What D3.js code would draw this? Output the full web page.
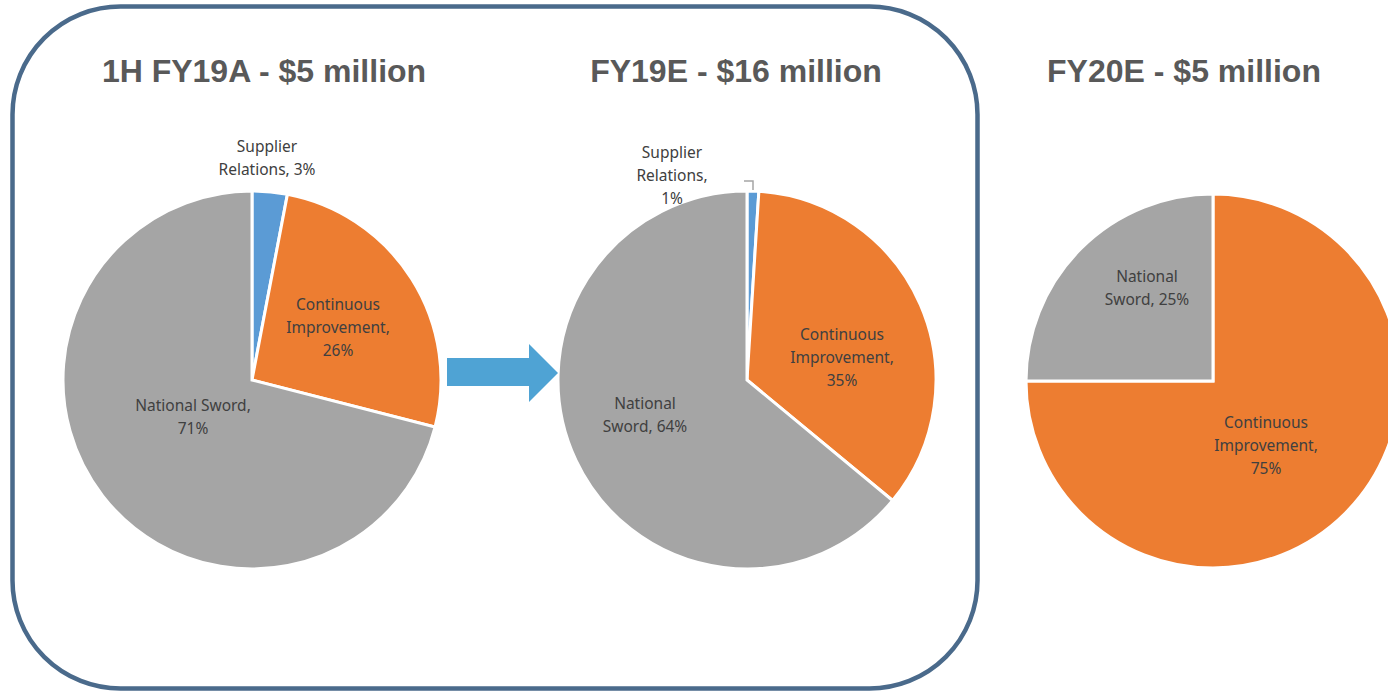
<!DOCTYPE html>
<html lang="en">
<head>
<meta charset="utf-8">
<style>
  body { margin: 0; background: white; }
  svg { display: block; }
  .title { font-family: 'Liberation Sans', Arial, sans-serif; font-weight: bold; font-size: 32px; fill: #595959; }
  .lbl { font-family: 'Noto Sans', 'Open Sans', sans-serif; font-size: 15.5px; fill: #404040; }
</style>
</head>
<body>
<svg width="1388" height="692"></svg>
<script src="https://cdn.jsdelivr.net/npm/d3@7"></script>
<script>
// slice order: Supplier Relations, Continuous Improvement, National Sword
var categories = ["Supplier Relations", "Continuous Improvement", "National Sword"];
var colors = ["#5b9bd5", "#ed7d31", "#a5a5a5"];
var titles = ["1H FY19A - $5 million", "FY19E - $16 million", "FY20E - $5 million"];
var fy19aValues = [3, 26, 71];
var fy19eValues = [1, 35, 64];
var fy20eValues = [0, 75, 25];

// label text lines per pie / slice (as shown on the chart)
var fy19aLabels = [["Supplier", "Relations, 3%"], ["Continuous", "Improvement,", "26%"], ["National Sword,", "71%"]];
var fy19eLabels = [["Supplier", "Relations,", "1%"], ["Continuous", "Improvement,", "35%"], ["National", "Sword, 64%"]];
var fy20eLabels = [[], ["Continuous", "Improvement,", "75%"], ["National", "Sword, 25%"]];

var svg = d3.select("svg");

// rounded frame around the first two pies
svg.append("rect")
    .attr("x", 12.5).attr("y", 6.5)
    .attr("width", 965).attr("height", 682)
    .attr("rx", 108).attr("ry", 108)
    .attr("fill", "none")
    .attr("stroke", "#4a6a8b")
    .attr("stroke-width", 4.5);

var pies = [
  { cx: 252, cy: 380, r: 189, title: titles[0], tx: 264, values: fy19aValues, labels: fy19aLabels,
    lpos: [[267, 147], [338, 305], [193, 406]] },
  { cx: 747, cy: 380, r: 189, title: titles[1], tx: 736, values: fy19eValues, labels: fy19eLabels,
    lpos: [[672, 153], [842, 335], [645, 404]] },
  { cx: 1213, cy: 381, r: 187, title: titles[2], tx: 1184, values: fy20eValues, labels: fy20eLabels,
    lpos: [[0, 0], [1266, 423], [1147, 277]] }
];

var pie = d3.pie().sort(null).value(d => d);

pies.forEach(function(p) {
  var arc = d3.arc().innerRadius(0).outerRadius(p.r);
  svg.append("text")
      .attr("class", "title")
      .attr("x", p.tx).attr("y", 82)
      .attr("text-anchor", "middle")
      .text(p.title);

  var g = svg.append("g").attr("transform", "translate(" + p.cx + "," + p.cy + ")");
  g.selectAll("path")
    .data(pie(p.values).filter(d => d.value > 0))
    .enter().append("path")
      .attr("d", arc)
      .attr("fill", d => colors[d.index])
      .attr("stroke", "white")
      .attr("stroke-width", 3)
      .attr("stroke-linejoin", "miter");

  p.labels.forEach(function(lines, i) {
    if (!lines.length) return;
    var t = svg.append("text")
        .attr("class", "lbl")
        .attr("text-anchor", "middle");
    lines.forEach(function(s, j) {
      t.append("tspan")
        .attr("x", p.lpos[i][0])
        .attr("y", p.lpos[i][1] + j * 23)
        .attr("dy", "0.35em")
        .text(s);
    });
  });
});

// leader line for the tiny FY19E supplier slice
var a1 = pie(fy19eValues)[0];
var mid = (a1.startAngle + a1.endAngle) / 2;
var ex = pies[1].cx + (pies[1].r + 2) * Math.sin(mid);
svg.append("path")
    .attr("d", "M" + (ex - 9) + "," + 181 + "H" + ex + "V" + 190)
    .attr("fill", "none")
    .attr("stroke", "#a5a5a5")
    .attr("stroke-width", 1.5);

// arrow between first two pies
svg.append("path")
    .attr("d", "M447,358H529V344L558,373L529,402V386H447Z")
    .attr("fill", "#4fa3d4");
</script>
</body>
</html>
